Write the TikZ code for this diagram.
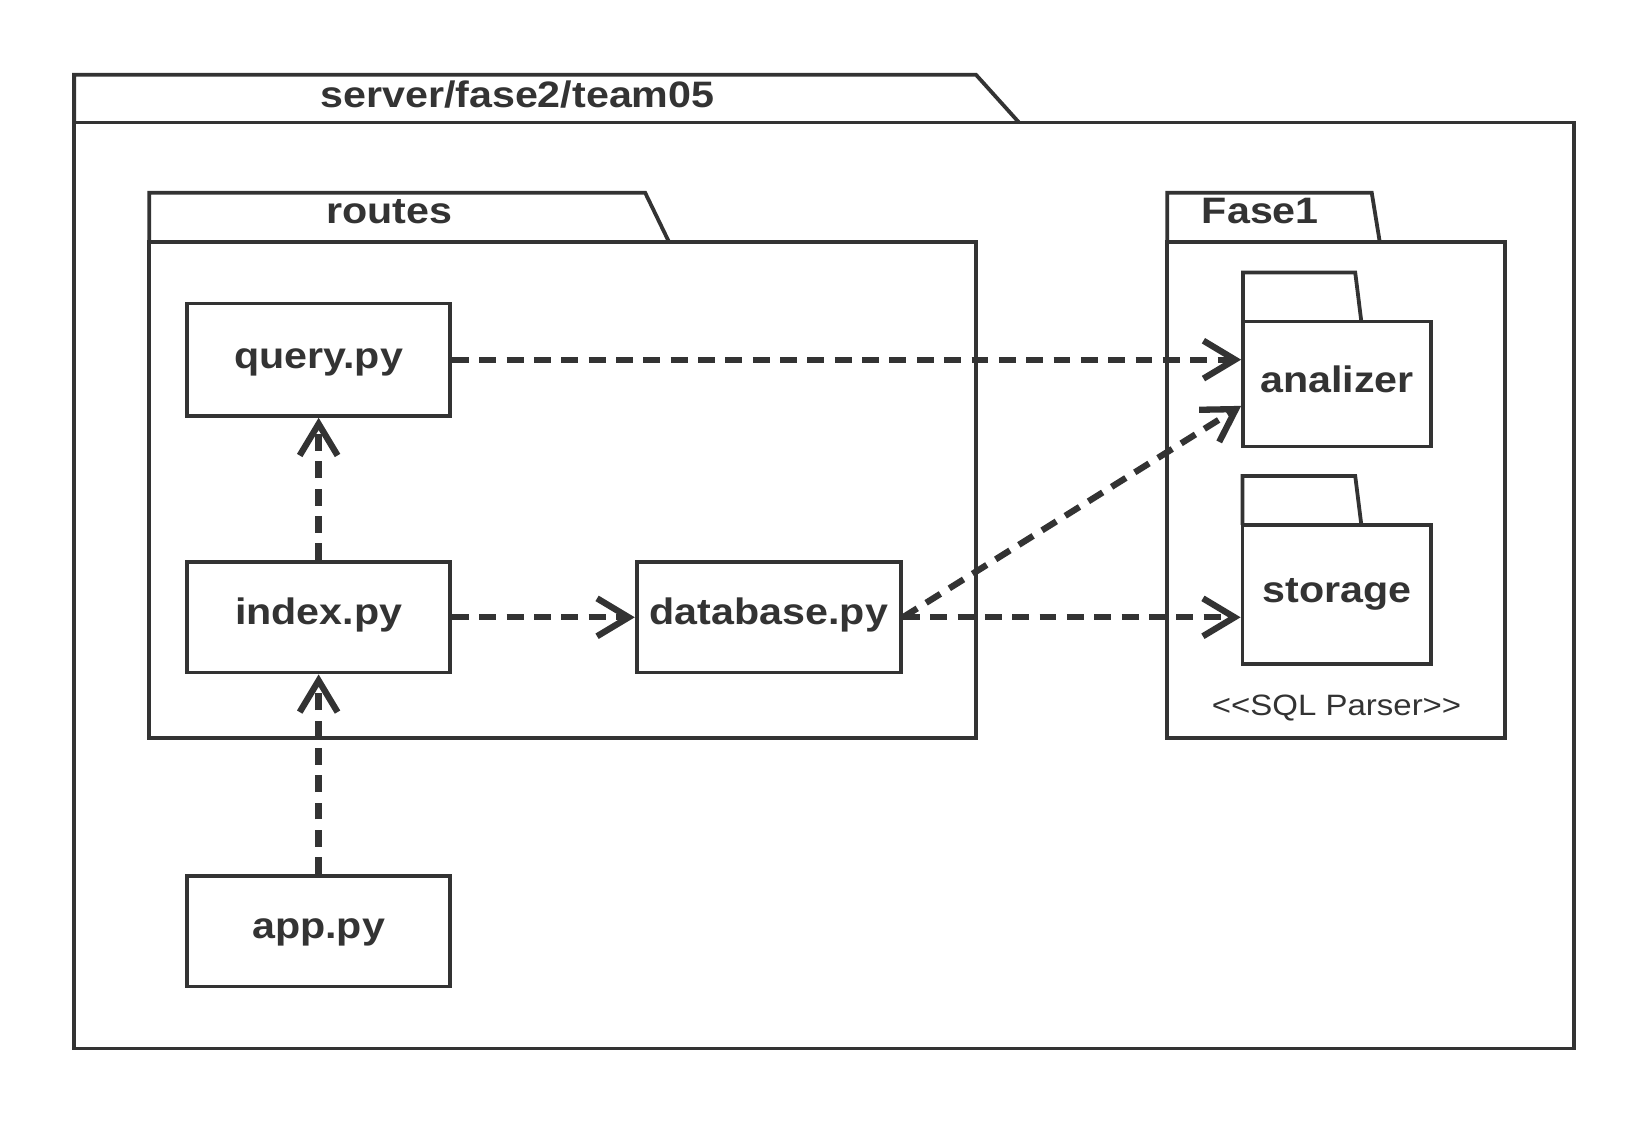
\documentclass[tikz,border=0pt]{standalone}
\usepackage{fontspec}
\setmainfont{Liberation Sans}[FakeStretch=1.12]
\usetikzlibrary{arrows.meta,calc}
\definecolor{ink}{HTML}{333333}
\begin{document}
\begin{tikzpicture}[x=0.5pt,y=-0.5pt,
  box/.style={draw=ink, line width=1.8pt, rectangle, inner sep=0pt},
  pkgline/.style={draw=ink, line width=1.8pt},
  dep/.style={draw=ink, line width=3pt, dash pattern=on 8pt off 5pt,
    -{Straight Barb[length=15pt,width=18pt]}},
  lbl/.style={font=\fontsize{17.5}{21}\selectfont\bfseries, text=ink, inner sep=0pt, anchor=base},
  stereo/.style={font=\fontsize{14}{17}\selectfont, text=ink, inner sep=0pt, anchor=base}]
\useasboundingbox (0,0) rectangle (1569,1070);
\fill[white] (0,0) rectangle (1569,1070);

% outer package server/fase2/team05
\node[box, minimum width=713.25pt, minimum height=440.25pt] (outer) at (783.75,556.75) {};
\draw[pkgline] (70.5,116.5) -- (70.5,71) -- (928,71) -- (969,116.5);
\node[lbl] (outert) at (492,102) {server/fase2/team05};

% routes package
\node[box, minimum width=393pt, minimum height=235.85pt] (routes) at (535,465.65) {};
\draw[pkgline] (142,229.8) -- (142,183.3) -- (613.5,183.3) -- (636,229.8);
\node[lbl] (routest) at (370,213) {routes};

% Fase1 package
\node[box, minimum width=160.5pt, minimum height=235.75pt] (fase) at (1270.5,465.75) {};
\draw[pkgline] (1110,230) -- (1110,183.3) -- (1304.4,183.3) -- (1312,230);
\node[lbl] (faset) at (1198.5,213) {Fase1};

% analizer
\node[box, minimum width=89.5pt, minimum height=59.35pt] (an) at (1271.5,365.15) {};
\draw[pkgline] (1182,305.8) -- (1182,259.2) -- (1288.7,259.2) -- (1294.5,305.8);
\node[lbl] (ant) at (1271.5,373.4) {analizer};

% storage
\node[box, minimum width=89.75pt, minimum height=66.25pt] (st) at (1271.25,565.25) {};
\draw[pkgline] (1181.5,499) -- (1181.5,452.7) -- (1288.7,452.7) -- (1294.5,499);
\node[lbl] (stt) at (1271.3,573) {storage};

\node[stereo] (sql) at (1271,680) {<{}<SQL Parser>{}>};

% files
\node[box, minimum width=125pt, minimum height=53.5pt] (q) at (303,342) {};
\node[lbl] (qt) at (303,350) {query.py};
\node[box, minimum width=125pt, minimum height=52.5pt] (i) at (303,587) {};
\node[lbl] (it) at (303,593.5) {index.py};
\node[box, minimum width=125.7pt, minimum height=52.5pt] (d) at (731.1,587) {};
\node[lbl] (dt) at (731.1,593.5) {database.py};
\node[box, minimum width=125pt, minimum height=52.5pt] (a) at (303,885.5) {};
\node[lbl] (at) at (303,892.5) {app.py};

% dependencies
\coordinate (anlow) at ($(an.north west)!0.67!(an.south west)$);
\draw[dep] (q.east) -- (q.east -| an.west);
\draw[dep] (i.north) -- (q.south);
\draw[dep] (a.north) -- (i.south);
\draw[dep] (i.east) -- (d.west);
\draw[dep] (d.east) -- (anlow);
\draw[dep] (d.east) -- (d.east -| st.west);
\end{tikzpicture}
\end{document}
